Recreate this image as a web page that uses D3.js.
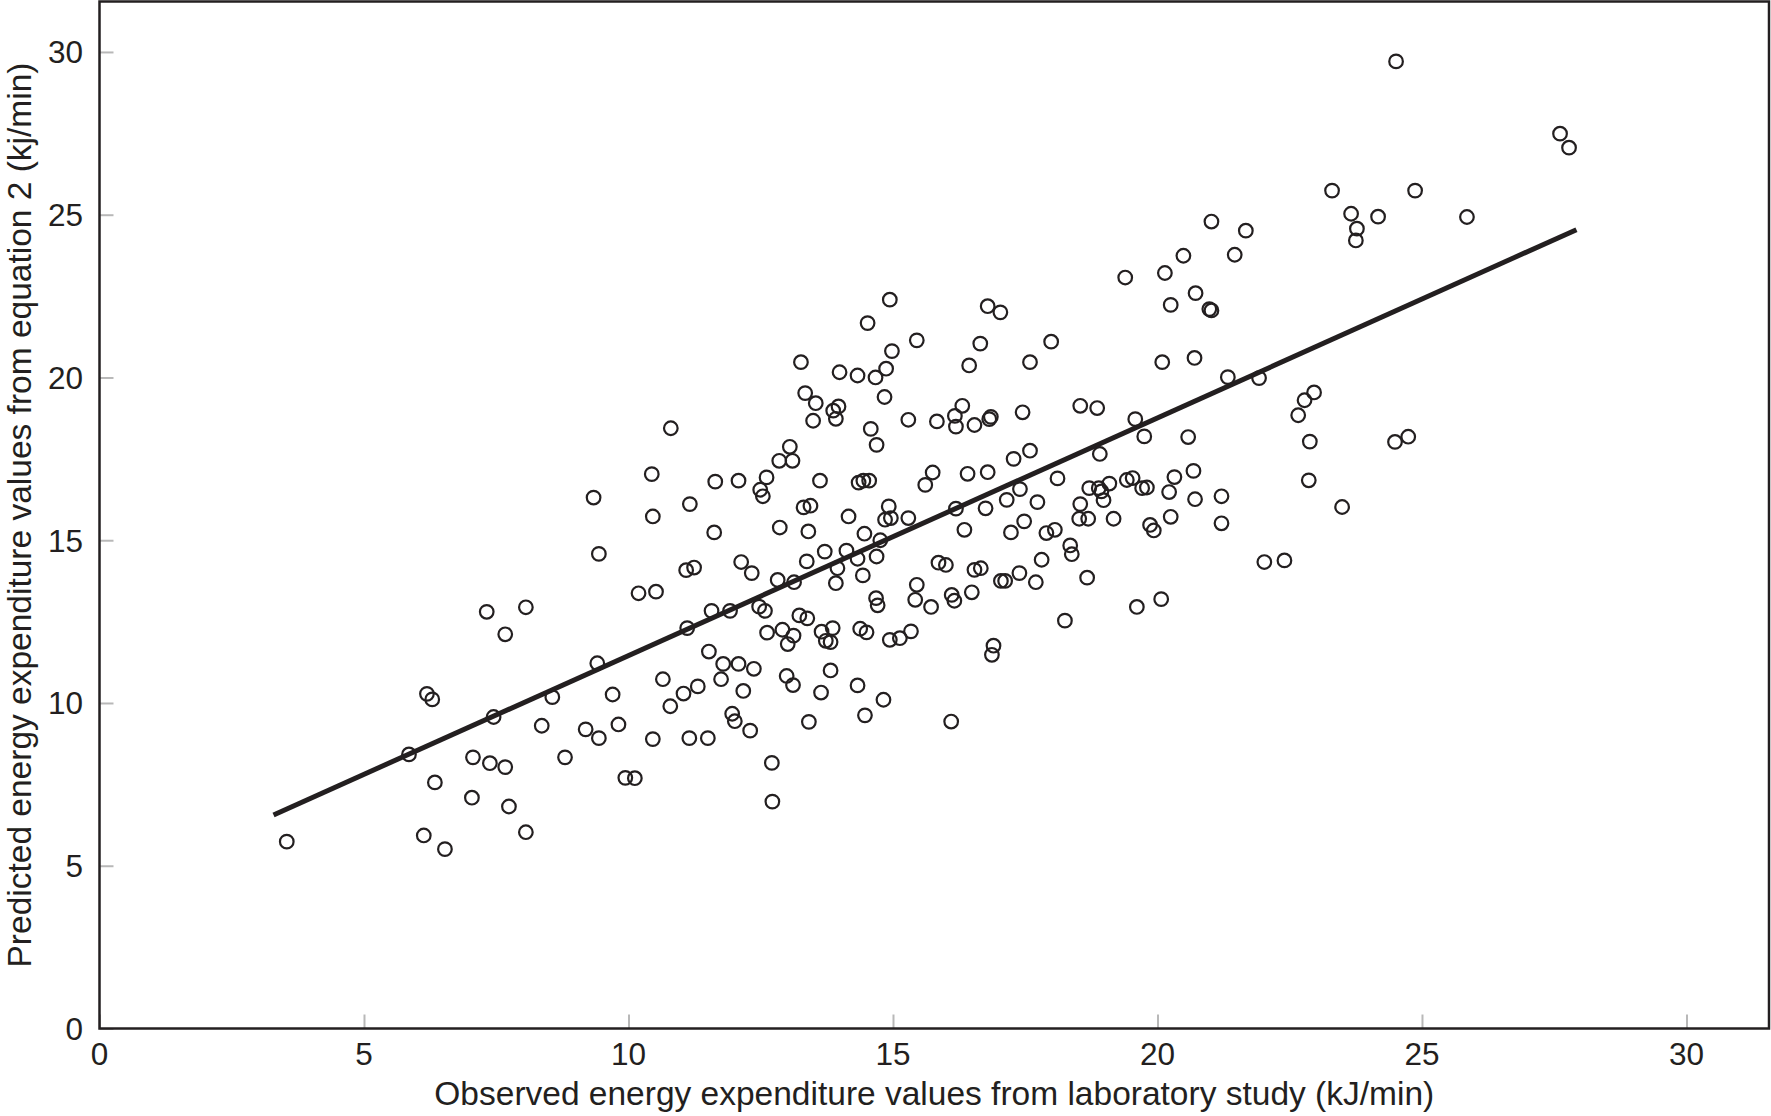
<!DOCTYPE html>
<html lang="en">
<head>
    <meta charset="UTF-8">
    <title>Observed vs predicted energy expenditure</title>
    <script src="https://d3js.org/d3.v7.min.js"></script>
    <style>
        body { margin: 0; background: #fff; }
        text { font-family: "Liberation Sans", Arial, Helvetica, sans-serif; fill: #231f20; }
    </style>
</head>
<body>
    <div id="chart"></div>

    <script>
        const obsX = [
            19.39, 14.94, 16.79, 17.03, 14.52, 15.45, 16.65, 17.99, 14.98, 13.26, 16.44, 17.59,
            24.51, 27.61, 27.78, 23.30, 24.87, 23.66, 24.17, 25.85, 23.77, 23.75, 21.02, 21.67,
            20.49, 21.46, 20.14, 20.72, 20.25, 20.98, 21.02, 20.09, 20.70,
            21.33, 21.92, 22.96, 22.78, 22.66, 19.75, 20.58, 22.88, 24.74, 24.49, 20.68, 20.32,
            22.86, 20.22, 20.71, 21.21, 20.25, 21.21, 19.86, 19.93, 23.49, 22.02, 22.40, 20.07,
            10.80, 10.44, 11.64, 9.34, 11.16, 10.46, 11.62, 9.44, 11.09, 11.24, 10.19, 10.52,
            11.57, 11.11, 11.52, 7.32, 8.06, 7.67, 9.41,
            6.19, 6.29, 7.45, 8.56, 9.70, 10.65, 11.31, 11.04, 10.79, 5.85, 8.36, 9.19, 9.44,
            9.81, 10.46, 11.15, 11.50, 7.06, 7.38, 7.67, 8.80, 6.34, 9.94, 10.12, 7.04, 7.74,
            8.06, 3.54, 6.13, 6.53,
            11.79, 12.08, 12.37, 11.75, 12.17, 12.99, 13.11, 13.82, 13.64, 14.33, 14.82, 11.96,
            12.01, 12.30, 13.41, 14.47, 16.10, 12.71, 12.72,
            13.99, 14.33, 14.67, 14.87, 13.34, 13.54, 13.87, 13.97, 13.92, 13.49, 14.84, 14.58,
            14.69, 15.29, 15.83, 16.31, 16.17, 16.19, 16.54, 16.82, 16.85, 17.45, 18.54, 18.86,
            19.58, 18.91, 17.59, 17.28, 13.05, 12.85, 13.10, 12.08, 12.61, 12.49, 12.54, 13.62,
            14.35, 14.44, 14.55, 15.75, 15.61, 16.41, 16.79, 18.11, 17.40, 17.15, 17.73, 16.19,
            16.75, 18.71, 18.89, 18.94, 19.09, 18.98, 19.42, 19.53, 19.71, 19.80, 18.54, 18.52,
            18.69, 19.17, 12.13, 12.33, 12.86, 13.31, 13.44, 13.40, 14.16, 14.92, 14.85, 14.96,
            15.29, 14.46, 14.76, 16.35, 17.23, 17.48, 17.90, 18.06, 18.35, 18.38, 17.81, 18.67,
            19.61, 18.25, 17.70, 17.39, 17.04, 17.12, 16.54, 16.66, 16.49, 15.86, 16.00, 15.45,
            15.42, 15.72, 16.11, 16.16, 16.90, 16.87, 14.68, 14.71, 14.43, 14.69, 14.33, 14.12,
            13.95, 13.92, 13.71, 13.37, 13.13, 12.82, 11.92, 12.47, 12.58, 13.23, 13.38, 12.62,
            12.91, 13.12, 13.01, 13.65, 13.86, 13.73, 13.82, 14.38, 14.50, 14.94, 15.13, 15.34
        ];
        const predY = [
            23.07, 22.39, 22.19, 22.00, 21.67, 21.14, 21.04, 21.10, 20.81, 20.47, 20.37, 20.47,
            29.71, 27.49, 27.06, 25.74, 25.74, 25.03, 24.94, 24.93, 24.57, 24.21, 24.79, 24.51,
            23.74, 23.77, 23.21, 22.59, 22.23, 22.10, 22.06, 20.47, 20.60,
            20.01, 19.98, 19.54, 19.30, 18.84, 18.19, 18.17, 18.03, 18.18, 18.02, 17.13, 16.94,
            16.84, 16.48, 16.26, 16.35, 15.72, 15.52, 15.47, 15.30, 16.02, 14.33, 14.38, 13.19,
            18.44, 17.03, 16.80, 16.31, 16.11, 15.73, 15.24, 14.58, 14.08, 14.16, 13.37, 13.42,
            12.83, 12.30, 11.58, 12.80, 12.94, 12.11, 11.22,
            10.28, 10.11, 9.57, 10.18, 10.26, 10.73, 10.51, 10.29, 9.90, 8.42, 9.30, 9.19, 8.92,
            9.34, 8.89, 8.92, 8.92, 8.33, 8.15, 8.03, 8.33, 7.56, 7.70, 7.69, 7.09, 6.82,
            6.03, 5.74, 5.93, 5.51,
            11.20, 11.20, 11.05, 10.73, 10.37, 10.83, 10.55, 11.00, 10.32, 10.54, 10.10, 9.67,
            9.44, 9.15, 9.42, 9.62, 9.43, 8.16, 6.97,
            20.16, 20.06, 20.00, 20.27, 19.52, 19.21, 18.98, 19.11, 18.73, 18.67, 19.40, 18.42,
            17.93, 18.70, 18.65, 19.13, 18.82, 18.49, 18.54, 18.72, 18.79, 18.93, 19.13, 19.06,
            18.72, 17.65, 17.75, 17.50, 17.87, 17.44, 17.44, 16.83, 16.93, 16.55, 16.35, 16.83,
            16.77, 16.83, 16.83, 17.08, 16.70, 17.04, 17.09, 16.90, 16.57, 16.24, 16.17, 15.97,
            15.98, 16.60, 16.60, 16.50, 16.74, 16.23, 16.85, 16.91, 16.60, 16.62, 16.11, 15.66,
            15.66, 15.66, 14.33, 13.99, 15.39, 16.01, 16.06, 15.27, 15.73, 16.04, 15.63, 15.68,
            15.68, 15.20, 15.00, 15.32, 15.24, 15.58, 15.22, 15.32, 14.84, 14.57, 14.40, 13.85,
            12.95, 12.53, 13.71, 13.99, 13.75, 13.75, 14.09, 14.14, 13.40, 14.31, 14.24, 13.63,
            13.17, 12.95, 13.32, 13.14, 11.76, 11.48, 13.22, 13.00, 13.92, 14.50, 14.43, 14.68,
            14.14, 13.68, 14.65, 14.35, 13.71, 13.78, 12.83, 12.96, 12.83, 12.69, 12.60, 12.16,
            12.25, 12.07, 11.81, 12.19, 12.30, 11.91, 11.87, 12.28, 12.17, 11.94, 11.99, 12.20
        ];

        // regression line end points
        const fitX = [3.29, 27.92];
        const fitY = [6.56, 24.54];

        const xTicks = [0, 5, 10, 15, 20, 25, 30];
        const yTicks = [0, 5, 10, 15, 20, 25, 30];

        const xLabel = "Observed energy expenditure values from laboratory study (kJ/min)";
        const yLabel = "Predicted energy expenditure values from equation 2 (kj/min)";

        const W = 1771, H = 1116;
        const plot = { left: 99.5, right: 1769, top: 1.5, bottom: 1028.5 };
        const ink = "#231f20";

        const svg = d3.select("#chart")
            .append("svg")
            .attr("width", W)
            .attr("height", H);

        const x = d3.scaleLinear()
            .domain([0, 31.56])
            .range([plot.left, plot.right]);

        const y = d3.scaleLinear()
            .domain([0, 31.55])
            .range([plot.bottom, plot.top]);

        // inward grey ticks
        const xAxis = svg.append("g")
            .attr("transform", `translate(0,${plot.bottom})`)
            .call(d3.axisTop(x).tickValues(xTicks).tickSize(14).tickFormat(""));
        const yAxis = svg.append("g")
            .attr("transform", `translate(${plot.left},0)`)
            .call(d3.axisRight(y).tickValues(yTicks).tickSize(14).tickFormat(""));
        [xAxis, yAxis].forEach(g => {
            g.select(".domain").remove();
            g.selectAll("line").attr("stroke", "#b8b8b8").attr("stroke-width", 2);
        });

        // tick labels
        svg.append("g").selectAll("text")
            .data(xTicks)
            .join("text")
            .attr("x", d => x(d))
            .attr("y", 1065)
            .attr("text-anchor", "middle")
            .attr("font-size", 31.5)
            .text(d => d);

        svg.append("g").selectAll("text")
            .data(yTicks)
            .join("text")
            .attr("x", 83)
            .attr("y", d => y(d))
            .attr("dy", "0.36em")
            .attr("text-anchor", "end")
            .attr("font-size", 31.5)
            .text(d => d);

        // frame
        svg.append("rect")
            .attr("x", plot.left)
            .attr("y", plot.top)
            .attr("width", plot.right - plot.left)
            .attr("height", plot.bottom - plot.top)
            .attr("fill", "none")
            .attr("stroke", ink)
            .attr("stroke-width", 2.5);

        // fit line
        const line = d3.line()
            .x(d => x(d[0]))
            .y(d => y(d[1]));

        svg.append("path")
            .datum(d3.zip(fitX, fitY))
            .attr("fill", "none")
            .attr("stroke", ink)
            .attr("stroke-width", 5)
            .attr("d", line);

        // points
        svg.append("g").selectAll("circle")
            .data(d3.zip(obsX, predY))
            .join("circle")
            .attr("cx", d => x(d[0]))
            .attr("cy", d => y(d[1]))
            .attr("r", 6.8)
            .attr("fill", "none")
            .attr("stroke", ink)
            .attr("stroke-width", 2.2);

        // axis titles
        svg.append("text")
            .attr("x", (plot.left + plot.right) / 2)
            .attr("y", 1105)
            .attr("text-anchor", "middle")
            .attr("font-size", 33.5)
            .text(xLabel);

        svg.append("text")
            .attr("transform", `translate(31,${(plot.top + plot.bottom) / 2}) rotate(-90)`)
            .attr("text-anchor", "middle")
            .attr("font-size", 33.5)
            .text(yLabel);
    </script>
</body>
</html>
